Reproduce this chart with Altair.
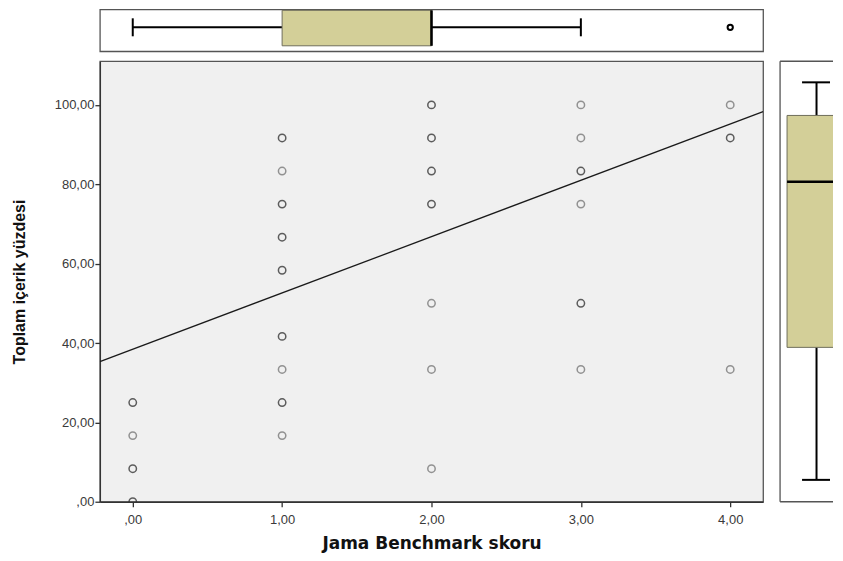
import altair as alt
import pandas as pd

# ---- data ----
pts_x = [0, 0, 0, 0,
         1, 1, 1, 1, 1, 1, 1, 1, 1,
         2, 2, 2, 2, 2, 2, 2,
         3, 3, 3, 3, 3, 3,
         4, 4, 4]
pts_y = [25, 16.67, 8.33, 0,
         91.67, 83.33, 75, 66.67, 58.33, 41.67, 33.33, 25, 16.67,
         100, 91.67, 83.33, 75, 50, 33.33, 8.33,
         100, 91.67, 83.33, 75, 50, 33.33,
         100, 91.67, 33.33]
# estimated overlap (darker rings = several cases on the same spot)
pts_n = [2, 1, 2, 2,
         2, 1, 2, 2, 2, 2, 1, 2, 1,
         2, 3, 2, 2, 1, 1, 1,
         1, 1, 2, 1, 2, 1,
         1, 2, 1]

fit_x = [-0.22, 4.22]
fit_y = [35.3, 98.3]

# boxplot of x (Jama Benchmark skoru)
xbox_min, xbox_q1, xbox_med, xbox_q3, xbox_max = 0, 1, 2, 2, 3
xbox_outliers = [4]
# boxplot of y (Toplam içerik yüzdesi)
ybox_min, ybox_q1, ybox_med, ybox_q3, ybox_max = 0, 33.33, 75, 91.67, 100

x_ticks = [0, 1, 2, 3, 4]
x_tick_labels = [",00", "1,00", "2,00", "3,00", "4,00"]
y_ticks = [0, 20, 40, 60, 80, 100]
y_tick_labels = [",00", "20,00", "40,00", "60,00", "80,00", "100,00"]

x_title = "Jama Benchmark skoru"
y_title = "Toplam içerik yüzdesi"

# ---- styling ----
FONT = "Liberation Sans"
BOX_FILL = "#D3CF98"
BOX_STROKE = "#6e6d5a"
FRAME = "#555555"
W_MAIN, H_MAIN = 664, 441
H_TOP = 42
W_RIGHT = 53
XDOM = [-0.22, 4.22]
YDOM = [0, 111]
YBOXDOM = [-5.5, 105.3]


def label_expr(vals, labs):
    expr = "''"
    for v, l in reversed(list(zip(vals, labs))):
        expr = f"datum.value == {v} ? '{l}' : ({expr})"
    return expr


pts = pd.DataFrame({"x": pts_x, "y": pts_y, "n": pts_n})
pts["multi"] = pts["n"] > 1
fit = pd.DataFrame({"x": fit_x, "y": fit_y})

xscale = alt.Scale(domain=XDOM, nice=False, zero=False)
yscale = alt.Scale(domain=YDOM, nice=False, zero=False)

x_axis = alt.Axis(
    values=x_ticks, labelExpr=label_expr(x_ticks, x_tick_labels), grid=False,
    title=x_title, titleFont="DejaVu Sans", titleFontSize=17, titleFontWeight="bold", titleColor="#111111",
    labelFont=FONT, labelFontSize=13, labelColor="#3a3a3a", labelPadding=7,
    tickColor="#333333", tickSize=5, tickWidth=1.3, domainColor="#333333", domainWidth=1.3,
    titlePadding=9,
)
y_axis = alt.Axis(
    values=y_ticks, labelExpr=label_expr(y_ticks, y_tick_labels), grid=False,
    title=y_title, titleFont=FONT, titleFontSize=16, titleFontWeight="bold", titleColor="#111111",
    labelFont=FONT, labelFontSize=13, labelColor="#3a3a3a", labelPadding=1,
    tickColor="#333333", tickSize=5, tickWidth=1.3, domainColor="#333333", domainWidth=1.3,
    titlePadding=27,
)

points = alt.Chart(pts).mark_point(filled=False, size=55, strokeWidth=1.5, clip=True).encode(
    x=alt.X("x:Q", scale=xscale, axis=x_axis),
    y=alt.Y("y:Q", scale=yscale, axis=y_axis),
    color=alt.Color("multi:N", scale=alt.Scale(domain=[False, True], range=["#6a6a6a", "#1e1e1e"]), legend=None),
)
line = alt.Chart(fit).mark_line(color="#1a1a1a", strokeWidth=1.3, clip=True).encode(
    x=alt.X("x:Q", scale=xscale),
    y=alt.Y("y:Q", scale=yscale),
)
main = alt.layer(points, line).properties(
    width=W_MAIN, height=H_MAIN,
    view=alt.ViewBackground(fill="#F0F0F0", stroke=FRAME, strokeWidth=1.3),
)

# ---- top boxplot (x variable) ----
xb = pd.DataFrame({"lo": [xbox_min], "q1": [xbox_q1], "med": [xbox_med], "q3": [xbox_q3], "hi": [xbox_max]})
xo = pd.DataFrame({"v": xbox_outliers})
tx = lambda f: alt.X(f, scale=xscale, axis=None)
top_base = alt.Chart(xb)
t_wh1 = top_base.mark_rule(color="black", strokeWidth=2).encode(x=tx("lo:Q"), x2="q1:Q", y=alt.value(18))
t_wh2 = top_base.mark_rule(color="black", strokeWidth=2).encode(x=tx("q3:Q"), x2="hi:Q", y=alt.value(18))
t_cap1 = top_base.mark_rule(color="black", strokeWidth=2).encode(x=tx("lo:Q"), y=alt.value(9), y2=alt.value(27))
t_cap2 = top_base.mark_rule(color="black", strokeWidth=2).encode(x=tx("hi:Q"), y=alt.value(9), y2=alt.value(27))
t_box = top_base.mark_rect(fill=BOX_FILL, stroke=BOX_STROKE, strokeWidth=1).encode(
    x=tx("q1:Q"), x2="q3:Q", y=alt.value(1), y2=alt.value(36.5))
t_med = top_base.mark_rule(color="black", strokeWidth=2.6).encode(x=tx("med:Q"), y=alt.value(1), y2=alt.value(36.5))
t_out = alt.Chart(xo).mark_point(filled=False, color="black", size=28, strokeWidth=2, opacity=1).encode(
    x=tx("v:Q"), y=alt.value(18))
top = alt.layer(t_wh1, t_wh2, t_cap1, t_cap2, t_box, t_med, t_out).properties(
    width=W_MAIN, height=H_TOP,
    view=alt.ViewBackground(fill="white", stroke=FRAME, strokeWidth=1.3),
)

# ---- right boxplot (y variable) ----
yb = pd.DataFrame({"lo": [ybox_min], "q1": [ybox_q1], "med": [ybox_med], "q3": [ybox_q3], "hi": [ybox_max]})
ybscale = alt.Scale(domain=YBOXDOM, nice=False, zero=False)
ty = lambda f: alt.Y(f, scale=ybscale, axis=None)
rb = alt.Chart(yb)
r_wh1 = rb.mark_rule(color="black", strokeWidth=2).encode(y=ty("lo:Q"), y2="q1:Q", x=alt.value(36.5))
r_wh2 = rb.mark_rule(color="black", strokeWidth=2).encode(y=ty("q3:Q"), y2="hi:Q", x=alt.value(36.5))
r_cap1 = rb.mark_rule(color="black", strokeWidth=2).encode(y=ty("lo:Q"), x=alt.value(22), x2=alt.value(50))
r_cap2 = rb.mark_rule(color="black", strokeWidth=2).encode(y=ty("hi:Q"), x=alt.value(22), x2=alt.value(50))
r_box = rb.mark_rect(fill=BOX_FILL, stroke=BOX_STROKE, strokeWidth=1, clip=True).encode(
    y=ty("q1:Q"), y2="q3:Q", x=alt.value(7), x2=alt.value(80))
r_med = rb.mark_rule(color="black", strokeWidth=2.6, clip=True).encode(y=ty("med:Q"), x=alt.value(7), x2=alt.value(80))
r_left = rb.mark_rule(color=FRAME, strokeWidth=1.3).encode(x=alt.value(0), y=alt.value(0), y2=alt.value(H_MAIN))
r_top = rb.mark_rule(color=FRAME, strokeWidth=1.3).encode(x=alt.value(0), x2=alt.value(W_RIGHT), y=alt.value(0))
r_bot = rb.mark_rule(color=FRAME, strokeWidth=1.3).encode(x=alt.value(0), x2=alt.value(W_RIGHT), y=alt.value(H_MAIN))
right = alt.layer(r_wh1, r_wh2, r_cap1, r_cap2, r_box, r_med, r_left, r_top, r_bot).properties(
    width=W_RIGHT, height=H_MAIN,
    view=alt.ViewBackground(fill="white", stroke="transparent"),
)

# ---- empty corner cell ----
corner = alt.Chart(pd.DataFrame({"a": [0]})).mark_point(opacity=0, size=0).encode(
    x=alt.X("a:Q", axis=None), y=alt.Y("a:Q", axis=None)
).properties(width=1, height=1, view=alt.ViewBackground(stroke="transparent"))

chart = alt.concat(
    top, corner, main, right,
    columns=2, spacing={"row": 7, "column": 14}, align="each", bounds="full",
).properties(
    padding={"left": 2, "top": 0, "right": 0, "bottom": 0},
    background="white",
)

chart.save("out.html", embed_options={"renderer": "svg", "actions": False})
